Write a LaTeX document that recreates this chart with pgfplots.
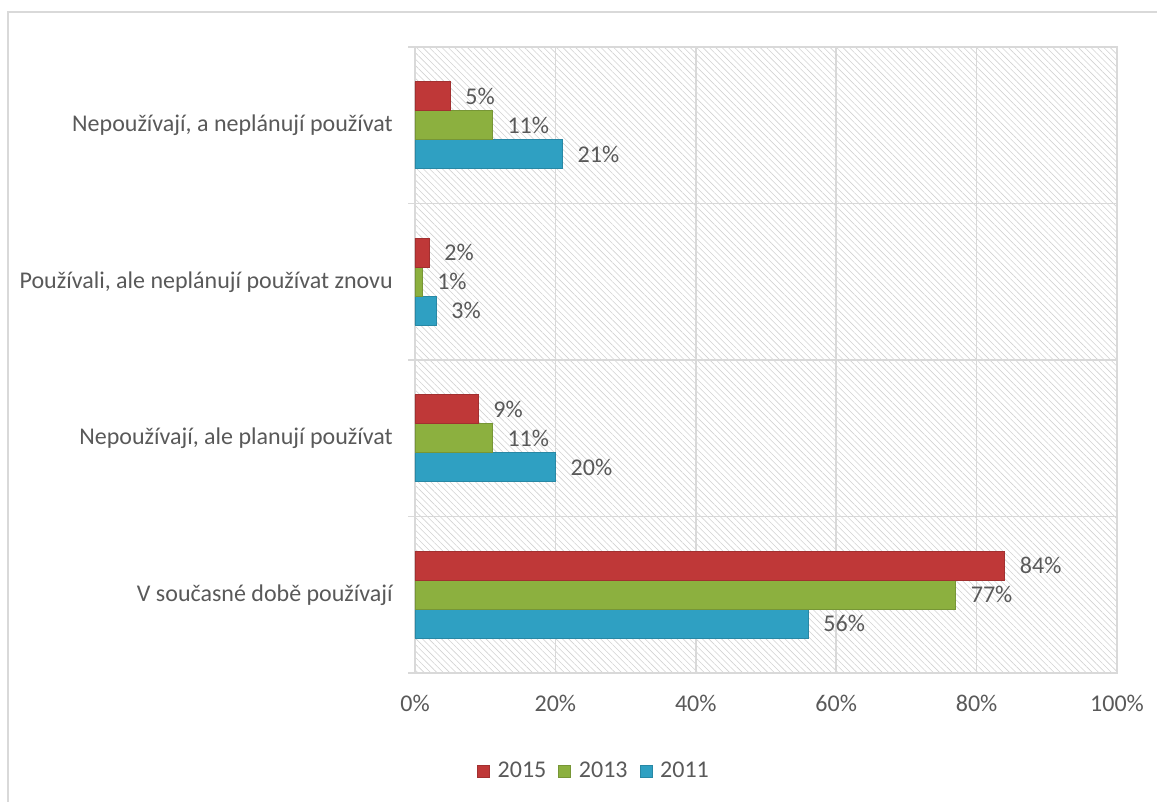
\documentclass[border=0pt]{standalone}
\usepackage{pgfplots}
\pgfplotsset{compat=1.18}
\usepackage{fontspec}
\setmainfont{Carlito}
\usetikzlibrary{patterns.meta}
\definecolor{txt}{HTML}{595959}
\definecolor{gridc}{HTML}{D9D9D9}
\definecolor{hatch}{HTML}{D2D2D2}
\definecolor{rmid}{HTML}{BF3838}
\definecolor{gmid}{HTML}{8CB03F}
\definecolor{bmid}{HTML}{2FA0C2}
\begin{document}
\begin{tikzpicture}[x=1pt,y=1pt]
\fontsize{24}{29}\selectfont
\path[use as bounding box] (0,0) rectangle (1157,802);
\draw[gridc, line width=1.5pt] (8,0) -- (8,790) -- (1157,790);
\begin{axis}[
  at={(415pt,129pt)}, anchor=south west,
  scale only axis, width=702pt, height=626pt,
  xbar, bar width=29pt,
  xmin=0, xmax=100, ymin=-0.5, ymax=3.5,
  xtick={0,20,40,60,80,100},
  xticklabels={0\%,20\%,40\%,60\%,80\%,100\%},
  ytick={0,1,2,3},
  yticklabels={V současné době používají, {Nepoužívají, ale planují používat}, {Používali, ale neplánují používat znovu}, {Nepoužívají, a neplánují používat}},
  minor ytick={-0.5,0.5,1.5,2.5,3.5},
  ytick pos=left,
  major tick length=0pt,
  minor tick length=7pt,
  tick align=outside,
  xmajorgrids, yminorgrids,
  grid style={gridc, line width=1.5pt},
  minor grid style={gridc, line width=1.5pt},
  minor tick style={gridc, line width=1.5pt},
  axis line style={gridc, line width=1.5pt},
  tick label style={font=\fontsize{24}{29}\selectfont, text=txt},
  xticklabel style={yshift=-14pt},
  yticklabel style={xshift=-14pt},
  axis background/.style={pattern={Lines[angle=-45,distance=4.5pt,line width=0.6pt]}, pattern color=hatch},
  /pgf/number format/assume math mode=true,
  nodes near coords={\pgfmathprintnumber{\pgfplotspointmeta}\%},
  point meta=x,
  every node near coord/.append style={font=\fontsize{24}{29}\selectfont, text=txt, xshift=7pt},
  legend columns=3,
  reverse legend,
  legend style={at={(axis description cs:0.255,-0.157)}, anchor=center, draw=none, fill=none, font=\fontsize{24}{29}\selectfont, text=txt, column sep=6pt, /tikz/every even column/.append style={column sep=10pt}},
  legend image code/.code={\fill[#1] (0pt,-6pt) rectangle (12pt,6pt);},
  clip=false,
]
\addplot[bar shift=-29pt, draw=bmid!85!black, line width=0.6pt, fill=bmid] coordinates {(56,0) (20,1) (3,2) (21,3)};
\addlegendentry{2011}
\addplot[bar shift=0pt, draw=gmid!85!black, line width=0.6pt, fill=gmid] coordinates {(77,0) (11,1) (1,2) (11,3)};
\addlegendentry{2013}
\addplot[bar shift=29pt, draw=rmid!85!black, line width=0.6pt, fill=rmid] coordinates {(84,0) (9,1) (2,2) (5,3)};
\addlegendentry{2015}
\end{axis}
\end{tikzpicture}
\end{document}
